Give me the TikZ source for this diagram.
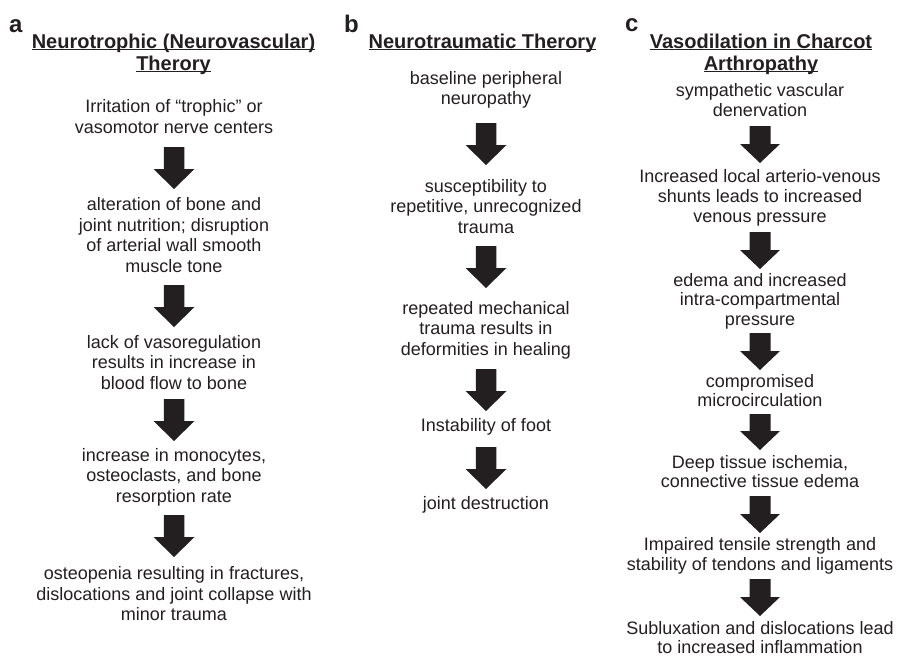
\documentclass[tikz,border=0pt]{standalone}
\usepackage{fontspec}
\setmainfont{Liberation Sans}
\usetikzlibrary{calc}
\definecolor{ink}{HTML}{231F20}
\newbox\myulbox
\newcommand\myul[1]{\setbox\myulbox\hbox{#1}\rlap{\rule[-2.2pt]{\wd\myulbox}{1.1pt}}\box\myulbox}
\tikzset{
  body/.style={font=\fontsize{18}{20.6}\selectfont, align=center, inner sep=0pt, text=ink},
  bodyc/.style={body, font=\fontsize{18}{19.7}\selectfont},
  head/.style={font=\bfseries\fontsize{20}{22}\selectfont, align=center, inner sep=0pt, text=ink},
  letter/.style={font=\bfseries\fontsize{24}{28}\selectfont, inner sep=0pt, text=ink, anchor=base west},
  blockarrow/.style n args={3}{to path={let \p1=(\tikztostart), \p2=(\tikztotarget) in
    (\x1-#1,\y1) -- (\x1+#1,\y1) -- (\x1+#1,\y2+#3) -- (\x1+#2,\y2+#3) -- (\x2,\y2)
    -- (\x1-#2,\y2+#3) -- (\x1-#1,\y2+#3) -- cycle}},
  bigarrow/.style={fill=ink, blockarrow={10.25pt}{20.5pt}{20pt}},
  smallarrow/.style={fill=ink, blockarrow={10.5pt}{20pt}{19pt}},
}
\begin{document}
\begin{tikzpicture}[x=1pt,y=-1pt]
\useasboundingbox (0,0) rectangle (897,657);

% panel letters
\node[letter] (la) at (9,32) {a};
\node[letter] (lb) at (344,32) {b};
\node[letter] (lc) at (625,31) {c};

% headings
\node[head] (ha) at (173.5,54.8) {\strut\myul{Neurotrophic (Neurovascular)}\\\myul{Therory}\strut};
\node[head] (hb) at (482.5,43.8) {\strut\myul{Neurotraumatic Therory}\strut};
\node[head] (hc) at (761,54.8) {\strut\myul{Vasodilation in Charcot}\\\myul{Arthropathy}\strut};

% column a
\node[body] (a1) at (174,119) {\strut Irritation of “trophic” or\\vasomotor nerve centers\strut};
\node[body] (a2) at (174,237.5) {\strut alteration of bone and\\joint nutrition; disruption\\of arterial wall smooth\\muscle tone\strut};
\node[body] (a3) at (174,364.5) {\strut lack of vasoregulation\\results in increase in\\blood flow to bone\strut};
\node[body] (a4) at (174,477.5) {\strut increase in monocytes,\\osteoclasts, and bone\\resorption rate\strut};
\node[body] (a5) at (174,596) {\strut osteopenia resulting in fractures,\\dislocations and joint collapse with\\minor trauma\strut};

\coordinate (a1s) at (174,147); \coordinate (a1e) at (174,189);
\coordinate (a2s) at (174,285); \coordinate (a2e) at (174,327);
\coordinate (a3s) at (174,399); \coordinate (a3e) at (174,441);
\coordinate (a4s) at (174,515); \coordinate (a4e) at (174,557);
\path[bigarrow] (a1s) to (a1e);
\path[bigarrow] (a2s) to (a2e);
\path[bigarrow] (a3s) to (a3e);
\path[bigarrow] (a4s) to (a4e);

% column b
\node[body] (b1) at (486,90.5) {\strut baseline peripheral\\neuropathy\strut};
\node[body] (b2) at (486,208.5) {\strut susceptibility to\\repetitive, unrecognized\\trauma\strut};
\node[body] (b3) at (486,330.5) {\strut repeated mechanical\\trauma results in\\deformities in healing\strut};
\node[body] (b4) at (486,427.5) {\strut Instability of foot\strut};
\node[body] (b5) at (486,505.5) {\strut joint destruction\strut};

\coordinate (b1s) at (486,123); \coordinate (b1e) at (486,165);
\coordinate (b2s) at (486,246); \coordinate (b2e) at (486,288);
\coordinate (b3s) at (486,369); \coordinate (b3e) at (486,411);
\coordinate (b4s) at (486,447); \coordinate (b4e) at (486,489);
\path[bigarrow] (b1s) to (b1e);
\path[bigarrow] (b2s) to (b2e);
\path[bigarrow] (b3s) to (b3e);
\path[bigarrow] (b4s) to (b4e);

% column c
\node[bodyc] (c1) at (760,102.5) {\strut sympathetic vascular\\denervation\strut};
\node[bodyc] (c2) at (760,198.5) {\strut Increased local arterio-venous\\shunts leads to increased\\venous pressure\strut};
\node[bodyc] (c3) at (760,302) {\strut edema and increased\\intra-compartmental\\pressure\strut};
\node[bodyc] (c4) at (760,393) {\strut compromised\\microcirculation\strut};
\node[bodyc] (c5) at (760,474) {\strut Deep tissue ischemia,\\connective tissue edema\strut};
\node[bodyc] (c6) at (760,556.5) {\strut Impaired tensile strength and\\stability of tendons and ligaments\strut};
\node[bodyc] (c7) at (760,640) {\strut Subluxation and dislocations lead\\to increased inflammation\strut};

\coordinate (c1s) at (760,126); \coordinate (c1e) at (760,163);
\coordinate (c2s) at (760,232); \coordinate (c2e) at (760,269);
\coordinate (c3s) at (760,333); \coordinate (c3e) at (760,370);
\coordinate (c4s) at (760,414); \coordinate (c4e) at (760,450);
\coordinate (c5s) at (760,496); \coordinate (c5e) at (760,533);
\coordinate (c6s) at (760,579); \coordinate (c6e) at (760,616);
\path[smallarrow] (c1s) to (c1e);
\path[smallarrow] (c2s) to (c2e);
\path[smallarrow] (c3s) to (c3e);
\path[smallarrow] (c4s) to (c4e);
\path[smallarrow] (c5s) to (c5e);
\path[smallarrow] (c6s) to (c6e);
\end{tikzpicture}
\end{document}
